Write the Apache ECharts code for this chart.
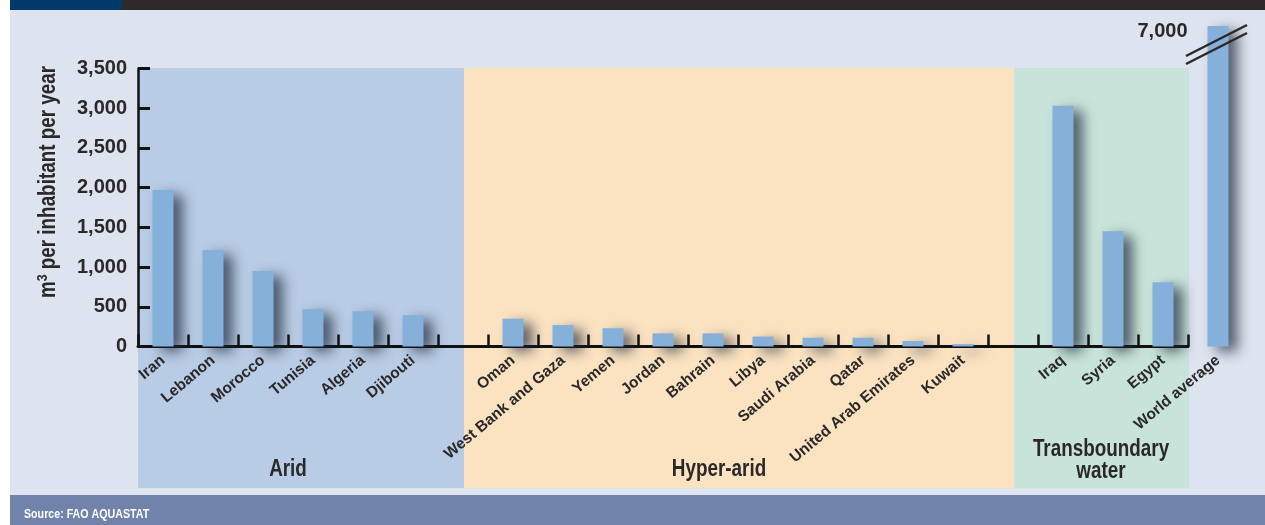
<!DOCTYPE html>
<html>
<head>
<meta charset="utf-8">
<title>Renewable water resources per inhabitant</title>
<script src="https://cdn.jsdelivr.net/npm/echarts/dist/echarts.min.js"></script>
<style>
  html, body { margin: 0; padding: 0; background: #ffffff; }
  #chart { width: 1265px; height: 525px; }
</style>
</head>
<body>
<div id="chart"></div>
<script>
// Renewable water resources, m3 per inhabitant per year (FAO AQUASTAT)
const aridCountries = ['Iran', 'Lebanon', 'Morocco', 'Tunisia', 'Algeria', 'Djibouti'];
const aridValues = [1970, 1215, 950, 470, 445, 395];

const hyperAridCountries = ['Oman', 'West Bank and Gaza', 'Yemen', 'Jordan', 'Bahrain', 'Libya',
  'Saudi Arabia', 'Qatar', 'United Arab Emirates', 'Kuwait'];
const hyperAridValues = [350, 270, 230, 165, 165, 125, 110, 110, 70, 30];

const transboundaryCountries = ['Iraq', 'Syria', 'Egypt'];
const transboundaryValues = [3030, 1450, 810];

const worldLabel = ['World average'];
const worldValue = [7000];

const yTicks = [0, 500, 1000, 1500, 2000, 2500, 3000, 3500];
const groupNames = ['Arid', 'Hyper-arid', 'Transboundary\nwater'];
const yTitle = '{a|m}{s|3}{a| per inhabitant per year}';
const sourceText = 'Source: FAO AQUASTAT';

const FONT = '"Liberation Sans", Arial, sans-serif';
const INK = '#2b2829';
const BAR = '#85b0da';
const NARROW = 0.82; // horizontal squeeze for the condensed headings

// one empty slot separates each group on the shared category axis
const categories = [...aridCountries, '', ...hyperAridCountries, ' ', ...transboundaryCountries];
const values = [...aridValues, null, ...hyperAridValues, null, ...transboundaryValues];

const fmt = v => v.toLocaleString('en-US');

const barStyle = {
  color: BAR,
  shadowColor: 'rgba(25, 35, 55, 0.7)',
  shadowBlur: 13,
  shadowOffsetX: 9,
  shadowOffsetY: 5
};

const catLabel = {
  interval: 0,
  rotate: 40,
  margin: 12,
  color: INK,
  fontFamily: FONT,
  fontWeight: 'bold',
  fontSize: 15.5
};

const chart = echarts.init(document.getElementById('chart'), null, { renderer: 'canvas' });

const option = {
  animation: false,
  backgroundColor: '#ffffff',
  grid: [
    { left: 138, top: 68.5, width: 1050, height: 278 },
    { left: 1193, top: 26, width: 50, height: 320.5 }
  ],
  xAxis: [
    {
      type: 'category',
      gridIndex: 0,
      data: categories,
      axisLine: { show: true, lineStyle: { color: '#111', width: 3 } },
      axisTick: { show: true, inside: true, length: 12, interval: 0, lineStyle: { color: '#111', width: 2.5 } },
      axisLabel: catLabel,
      splitLine: { show: false }
    },
    {
      type: 'category',
      gridIndex: 1,
      data: worldLabel,
      axisLine: { show: false },
      axisTick: { show: false },
      axisLabel: catLabel
    }
  ],
  yAxis: [
    {
      type: 'value',
      gridIndex: 0,
      min: yTicks[0],
      max: yTicks[yTicks.length - 1],
      interval: yTicks[1] - yTicks[0],
      axisLine: { show: true, lineStyle: { color: '#111', width: 2.5 } },
      axisTick: { show: true, inside: true, length: 12, lineStyle: { color: '#111', width: 3 } },
      splitLine: { show: false },
      axisLabel: {
        margin: 11,
        color: INK,
        fontFamily: FONT,
        fontWeight: 'bold',
        fontSize: 20,
        formatter: v => fmt(v)
      }
    },
    {
      type: 'value',
      gridIndex: 1,
      min: 0,
      max: worldValue[0],
      show: false
    }
  ],
  series: [
    {
      type: 'bar',
      xAxisIndex: 0,
      yAxisIndex: 0,
      data: values,
      barWidth: 21,
      itemStyle: barStyle,
      z: 3
    },
    {
      type: 'bar',
      xAxisIndex: 1,
      yAxisIndex: 1,
      data: worldValue,
      barWidth: 21,
      itemStyle: barStyle,
      z: 3,
      label: {
        show: true,
        position: [-20, 5],
        align: 'right',
        verticalAlign: 'middle',
        color: INK,
        fontFamily: FONT,
        fontWeight: 'bold',
        fontSize: 20,
        formatter: p => fmt(p.value)
      }
    }
  ],
  graphic: [
    // page panels
    { type: 'rect', z: -10, shape: { x: 10, y: 0, width: 1255, height: 525 }, style: { fill: '#dde4ef' } },
    { type: 'rect', z: -10, shape: { x: 10, y: 0, width: 1255, height: 10 }, style: { fill: '#2e2a2b' } },
    { type: 'rect', z: -10, shape: { x: 10, y: 0, width: 112, height: 10 }, style: { fill: '#003a6b' } },
    { type: 'rect', z: -10, shape: { x: 10, y: 495, width: 1255, height: 30 }, style: { fill: '#7283ab' } },
    {
      type: 'text', z: 10, x: 24, y: 514, scaleX: NARROW,
      style: { text: sourceText, fill: '#ffffff', font: 'bold 13px ' + FONT, verticalAlign: 'middle' }
    },
    // y-axis title
    {
      type: 'text', z: 10, x: 49, y: 182, rotation: Math.PI / 2, scaleX: NARROW,
      style: {
        text: yTitle, align: 'center', verticalAlign: 'middle',
        rich: {
          a: { fontFamily: FONT, fontWeight: 'bold', fontSize: 23, fill: INK, lineHeight: 26 },
          s: { fontFamily: FONT, fontWeight: 'bold', fontSize: 15, fill: INK, padding: [0, 0, 12, 0] }
        }
      }
    },
    // group bands
    { type: 'rect', z: -9, shape: { x: 138, y: 68, width: 326, height: 420 }, style: { fill: '#b9cce5' } },
    { type: 'rect', z: -9, shape: { x: 464, y: 68, width: 550, height: 420 }, style: { fill: '#fbe3c1' } },
    { type: 'rect', z: -9, shape: { x: 1014, y: 68, width: 175, height: 420 }, style: { fill: '#c8e4da' } },
    // group titles
    {
      type: 'text', z: 10, x: 288, y: 470, scaleX: NARROW,
      style: { text: groupNames[0], fill: INK, font: 'bold 23px ' + FONT, align: 'center', verticalAlign: 'middle' }
    },
    {
      type: 'text', z: 10, x: 719, y: 470, scaleX: NARROW,
      style: { text: groupNames[1], fill: INK, font: 'bold 23px ' + FONT, align: 'center', verticalAlign: 'middle' }
    },
    {
      type: 'text', z: 10, x: 1101, y: 461, scaleX: NARROW,
      style: { text: groupNames[2], fill: INK, font: 'bold 23px ' + FONT, align: 'center', verticalAlign: 'middle', lineHeight: 22 }
    },
    // axis-break marks across the world average bar
    { type: 'line', z: 10, shape: { x1: 1186, y1: 56, x2: 1247, y2: 25 }, style: { stroke: INK, lineWidth: 2.5 } },
    { type: 'line', z: 10, shape: { x1: 1186, y1: 64, x2: 1247, y2: 33 }, style: { stroke: INK, lineWidth: 2.5 } }
  ]
};

chart.setOption(option);
</script>
</body>
</html>
